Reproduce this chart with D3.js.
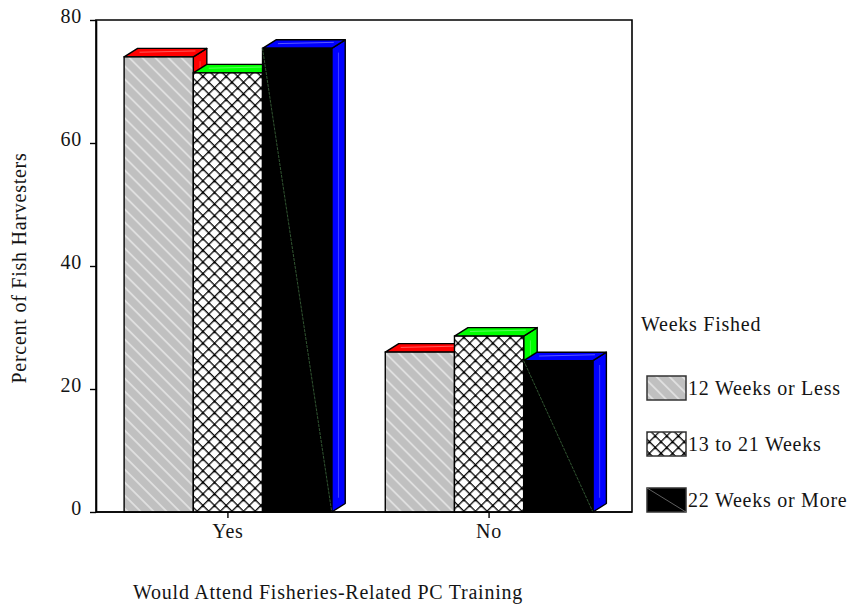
<!DOCTYPE html>
<html>
<head>
<meta charset="utf-8">
<script src="https://cdn.jsdelivr.net/npm/d3@7/dist/d3.min.js"></script>
<style>
  html, body { margin: 0; padding: 0; background: #fff; }
  svg { display: block; }
  text { font-family: "Liberation Serif", "DejaVu Serif", serif; fill: #141414; }
</style>
</head>
<body>
<svg id="chart" width="848" height="604"></svg>
<script>
// Answers by category, one value per weeks-fished group (percent)
const categories = ["Yes", "No"];
const seriesNames = ["12 Weeks or Less", "13 to 21 Weeks", "22 Weeks or More"];
const yesValues = [74.0, 71.4, 75.4];
const noValues = [26.0, 28.6, 24.6];
const yTicks = [0, 20, 40, 60, 80];
const capColors = ["#ff0000", "#00ff00", "#0000ff"];

const valuesByCategory = { Yes: yesValues, No: noValues };
const rows = [];
categories.forEach(c => seriesNames.forEach((s, i) => rows.push({ cat: c, series: s, idx: i, value: valuesByCategory[c][i] })));

const svg = d3.select("#chart");
const plot = { left: 96, right: 632, top: 20, bottom: 512 };
const depthX = 13.5, depthY = 8.5;
const spacing = "0.75px";

const y = d3.scaleLinear().domain([0, 80]).range([plot.bottom, plot.top]);
const x0 = d3.scaleBand().domain(categories).range([plot.left + 2, 619]).paddingInner(0.205).paddingOuter(0.1);
const x1 = d3.scaleBand().domain(seriesNames).range([0, x0.bandwidth()]).padding(0);

// Fill patterns
const defs = svg.append("defs");
const hatch = defs.append("pattern").attr("id", "hatch").attr("patternUnits", "userSpaceOnUse")
  .attr("width", 9.2).attr("height", 9.2).attr("patternTransform", "rotate(-45)");
hatch.append("rect").attr("width", 9.2).attr("height", 9.2).attr("fill", "#c0c0c0");
hatch.append("line").attr("x1", 4.6).attr("x2", 4.6).attr("y1", 0).attr("y2", 9.2)
  .attr("stroke", "#ffffff").attr("stroke-opacity", 0.65).attr("stroke-width", 1.4);

const cross = defs.append("pattern").attr("id", "cross").attr("patternUnits", "userSpaceOnUse")
  .attr("width", 8.2).attr("height", 8.2).attr("patternTransform", "rotate(45)");
cross.append("rect").attr("width", 8.2).attr("height", 8.2).attr("fill", "#ffffff");
cross.append("path").attr("d", "M0,0.6H8.2M0.6,0V8.2").attr("stroke", "#111").attr("stroke-width", 1.5);
cross.append("circle").attr("cx", 0.6).attr("cy", 0.6).attr("r", 1.9).attr("fill", "#000");

const fills = ["url(#hatch)", "url(#cross)", "#000000"];

// Frame
svg.append("path")
  .attr("d", `M${plot.left},${plot.top}H${plot.right}V${plot.bottom}H${plot.left}Z`)
  .attr("fill", "none").attr("stroke", "#000").attr("stroke-width", 1.6);

// Bars with 3-D caps and sides, painted left to right
const bars = svg.append("g");
rows.forEach(d => {
  const xa = x0(d.cat) + x1(d.series);
  const xb = xa + x1.bandwidth();
  const yt = y(d.value);
  const yb = y(0);
  const g = bars.append("g");
  g.append("path")
    .attr("d", `M${xb},${yt}L${xb + depthX},${yt - depthY}L${xb + depthX},${yb - depthY}L${xb},${yb}Z`)
    .attr("fill", capColors[d.idx]).attr("stroke", "#000").attr("stroke-width", 1.4).attr("stroke-linejoin", "round");
  g.append("path")
    .attr("d", `M${xa},${yt}L${xa + depthX},${yt - depthY}L${xb + depthX},${yt - depthY}L${xb},${yt}Z`)
    .attr("fill", capColors[d.idx]).attr("stroke", "#000").attr("stroke-width", 1.4).attr("stroke-linejoin", "round");
  // light sheen on cap and side
  g.append("line")
    .attr("x1", xa + depthX * 0.55 + 8).attr("y1", yt - depthY * 0.55)
    .attr("x2", xb + depthX * 0.45 - 4).attr("y2", yt - depthY * 0.7)
    .attr("stroke", "#fff").attr("stroke-opacity", 0.35).attr("stroke-width", 1);
  g.append("line")
    .attr("x1", xb + depthX * 0.5).attr("y1", yt - depthY * 0.2 + 6)
    .attr("x2", xb + depthX * 0.5).attr("y2", yb - depthY * 0.5 - 10)
    .attr("stroke", "#fff").attr("stroke-opacity", 0.25).attr("stroke-width", 1);
  g.append("rect")
    .attr("x", xa).attr("y", yt).attr("width", xb - xa).attr("height", yb - yt)
    .attr("fill", fills[d.idx]).attr("stroke", "#000").attr("stroke-width", 1.4);
  if (d.idx === 2) {
    g.append("line").attr("x1", xa).attr("y1", yt).attr("x2", xb).attr("y2", yb)
      .attr("stroke", "#3d6b3d").attr("stroke-width", 0.8).attr("stroke-dasharray", "3,1");
  }
});

// Axes drawn on top of bar bases
const yAxis = svg.append("g").attr("transform", `translate(${plot.left},0)`)
  .call(d3.axisLeft(y).tickValues(yTicks).tickSize(6).tickSizeOuter(0).tickPadding(8));
yAxis.select(".domain").attr("stroke", "#000").attr("stroke-width", 1.6);
yAxis.selectAll(".tick line").attr("stroke", "#000").attr("stroke-width", 1.4);
yAxis.selectAll(".tick text").attr("font-size", 20).attr("fill", "#141414")
  .attr("font-family", "Liberation Serif").attr("dy", "0.1em").style("letter-spacing", spacing);

const xAxis = svg.append("g").attr("transform", `translate(0,${plot.bottom})`)
  .call(d3.axisBottom(x0).tickSize(6).tickSizeOuter(0).tickPadding(6));
xAxis.select(".domain").attr("d", `M${plot.left},0H${plot.right}`).attr("stroke", "#000").attr("stroke-width", 1.6);
xAxis.selectAll(".tick line").attr("stroke", "#000").attr("stroke-width", 1.4);
xAxis.selectAll(".tick text").attr("font-size", 20).attr("fill", "#141414")
  .attr("font-family", "Liberation Serif").style("letter-spacing", spacing);

// Axis titles
svg.append("text").attr("x", 328).attr("y", 599).attr("text-anchor", "middle")
  .attr("font-size", 20).style("letter-spacing", spacing).text("Would Attend Fisheries-Related PC Training");
svg.append("text").attr("transform", "translate(26,268) rotate(-90)").attr("text-anchor", "middle")
  .attr("font-size", 20).style("letter-spacing", spacing).text("Percent of Fish Harvesters");

// Legend
const legend = svg.append("g");
legend.append("text").attr("x", 641).attr("y", 331).attr("font-size", 20)
  .style("letter-spacing", spacing).text("Weeks Fished");
seriesNames.forEach((s, i) => {
  const ly = 376 + i * 56;
  legend.append("rect").attr("x", 647).attr("y", ly).attr("width", 39).attr("height", 24)
    .attr("fill", fills[i]).attr("stroke", "#333").attr("stroke-width", 1.5);
  if (i === 2) {
    legend.append("line").attr("x1", 647).attr("y1", ly).attr("x2", 686).attr("y2", ly + 24)
      .attr("stroke", "#777").attr("stroke-width", 0.8);
  }
  legend.append("text").attr("x", 688).attr("y", ly + 19).attr("font-size", 20)
    .style("letter-spacing", spacing).text(s);
});
</script>
</body>
</html>
